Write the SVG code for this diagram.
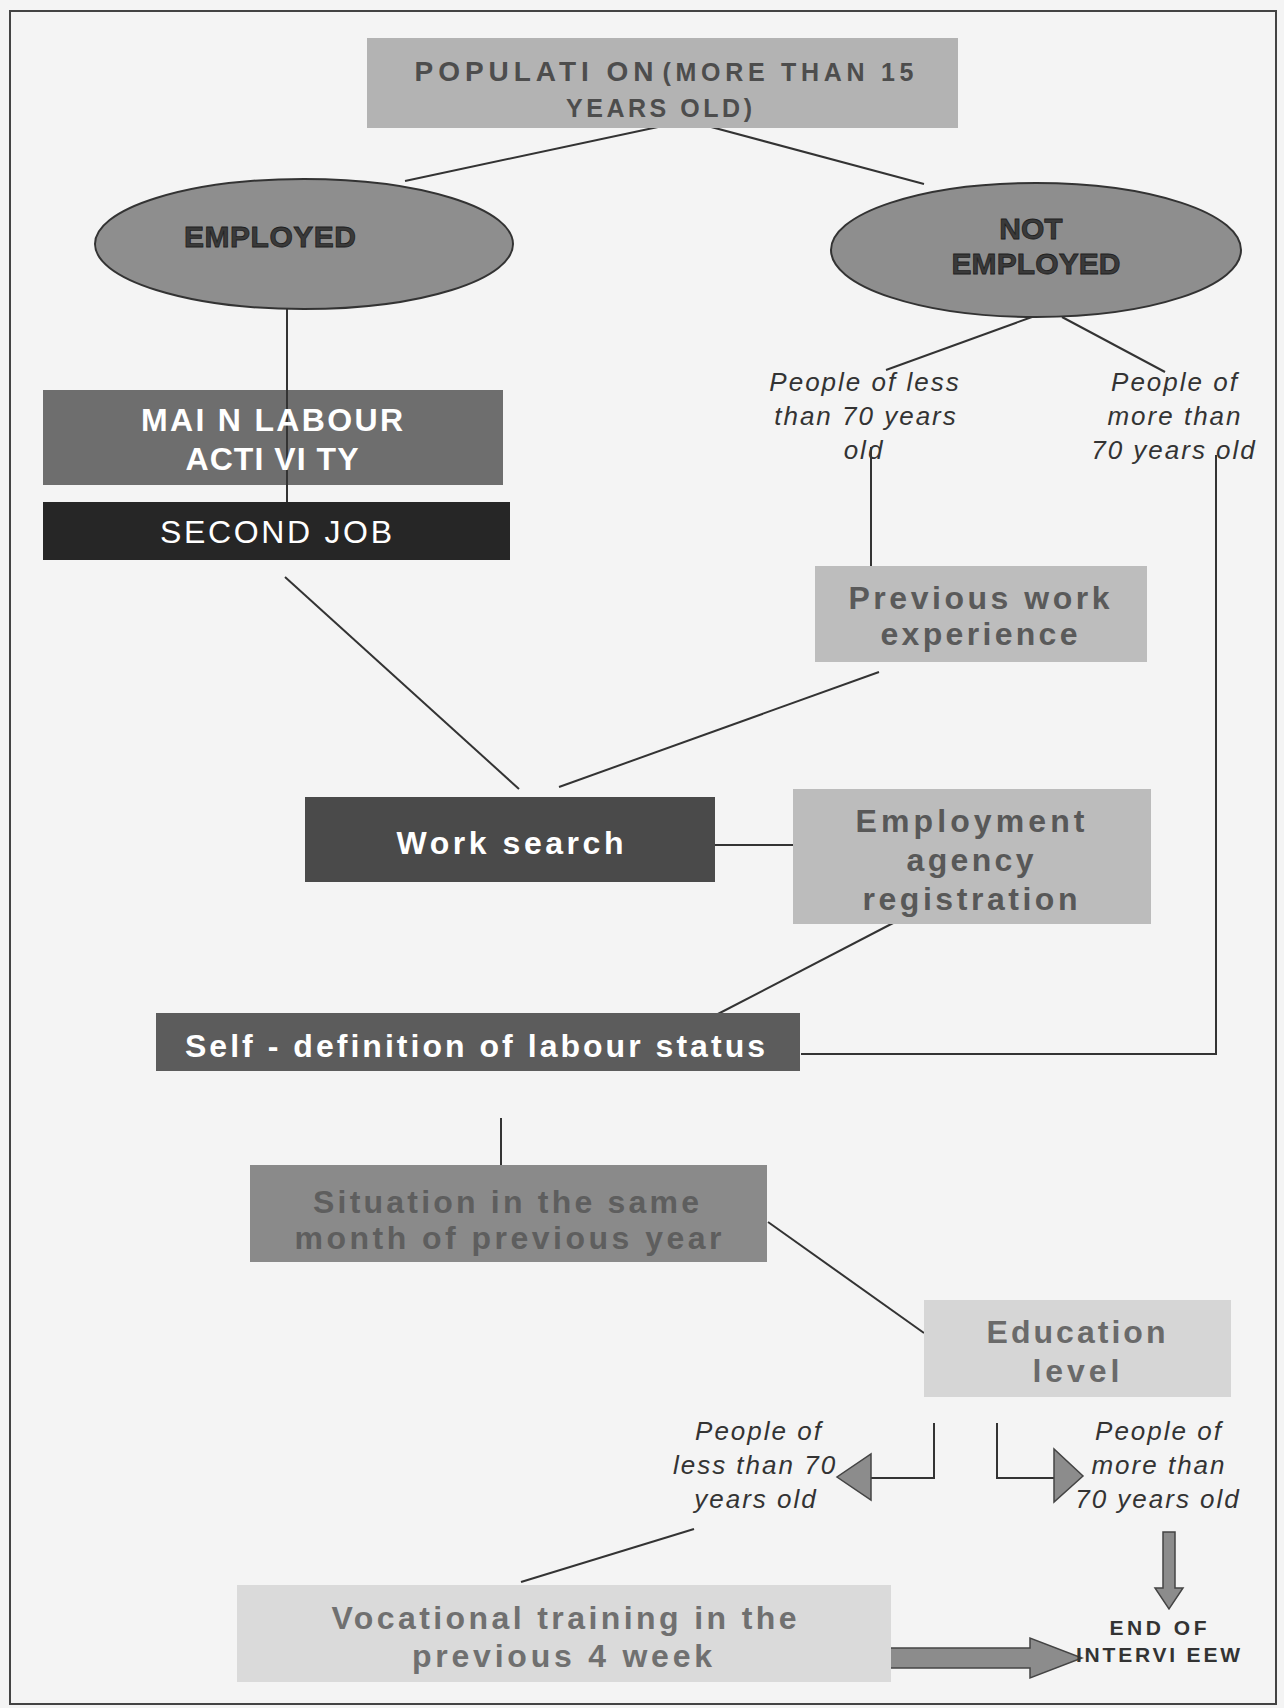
<svg xmlns="http://www.w3.org/2000/svg" width="1284" height="1708" viewBox="0 0 1284 1708">
<style>
text{font-family:"Liberation Sans",Arial,sans-serif;text-anchor:middle}
.b{font-weight:bold;font-size:32px}
.w{fill:#fff}
.it{font-style:italic;font-size:26px;fill:#333;letter-spacing:2px}
.ln{stroke:#333;stroke-width:2;fill:none}
.ar{fill:#8c8c8c;stroke:#444;stroke-width:1.5}
.ell{fill:#8e8e8e;stroke:#333;stroke-width:2}
.et{font-weight:bold;font-size:30px;fill:#3a3a3a;stroke:#1e1e1e;stroke-width:0.8}
.pop{font-weight:bold;fill:#4d4d4d}
</style>
<rect x="0" y="0" width="1284" height="1708" fill="#f4f4f4"/>
<rect x="10" y="11" width="1266" height="1693" fill="none" stroke="#444" stroke-width="2"/>

<g id="connectors">
<line class="ln" x1="672" y1="124" x2="405" y2="181"/>
<line class="ln" x1="700" y1="124" x2="924" y2="184"/>
<line class="ln" x1="287" y1="309" x2="287" y2="502"/>
<line class="ln" x1="1032" y1="317" x2="886" y2="370"/>
<line class="ln" x1="1062" y1="317" x2="1165" y2="372"/>
<line class="ln" x1="871" y1="447" x2="871" y2="566"/>
<polyline class="ln" points="1216,455 1216,1054 801,1054"/>
<line class="ln" x1="285" y1="577" x2="519" y2="789"/>
<line class="ln" x1="879" y1="672" x2="559" y2="787"/>
<line class="ln" x1="715" y1="845" x2="793" y2="845"/>
<line class="ln" x1="897" y1="921" x2="714" y2="1016"/>
<line class="ln" x1="501" y1="1118" x2="501" y2="1178"/>
<line class="ln" x1="768" y1="1222" x2="924" y2="1333"/>
<polyline class="ln" points="934,1423 934,1478 871,1478"/>
<polyline class="ln" points="997,1423 997,1478 1054,1478"/>
<line class="ln" x1="694" y1="1529" x2="521" y2="1582"/>
<polygon class="ar" points="871,1454 871,1500 837,1477"/>
<polygon class="ar" points="1054,1449 1054,1502 1083,1476"/>
<polygon class="ar" points="889,1648 1030,1648 1030,1638 1082,1658 1030,1678 1030,1668 889,1668"/>
<polygon class="ar" points="1163,1532 1175,1532 1175,1588 1183,1588 1169,1609 1155,1588 1163,1588"/>
</g>

<g id="population">
<rect x="367" y="38" width="591" height="90" fill="#b3b3b3"/>
<text class="pop" x="534" y="81" font-size="28" textLength="239" lengthAdjust="spacing">POPULATI ON</text>
<text class="pop" x="788" y="81" font-size="25" textLength="251" lengthAdjust="spacing">(MORE THAN 15</text>
<text class="pop" x="659" y="117" font-size="25" textLength="186" lengthAdjust="spacing">YEARS OLD)</text>
</g>

<g id="employed">
<ellipse class="ell" cx="304" cy="244" rx="209" ry="65"/>
<text class="et" x="270" y="247" textLength="172" lengthAdjust="spacing">EMPLOYED</text>
</g>

<g id="not-employed">
<ellipse class="ell" cx="1036" cy="250" rx="205" ry="67"/>
<text class="et" x="1031" y="239">NOT</text>
<text class="et" x="1036" y="274" textLength="169" lengthAdjust="spacing">EMPLOYED</text>
</g>

<g id="main-labour">
<rect x="43" y="390" width="460" height="95" fill="#6e6e6e"/>
<line class="ln" x1="287" y1="390" x2="287" y2="485"/>
<text class="b w" x="272" y="431" font-size="33" textLength="262" lengthAdjust="spacing">MAI N LABOUR</text>
<text class="b w" x="272" y="470" font-size="33" textLength="173" lengthAdjust="spacing">ACTI VI TY</text>
</g>

<g id="second-job">
<rect x="43" y="502" width="467" height="58" fill="#262626"/>
<text class="w" x="276" y="543" font-size="32" textLength="232" lengthAdjust="spacing">SECOND JOB</text>
</g>

<g id="age-split-1">
<text class="it" x="865" y="391">People of less</text>
<text class="it" x="866" y="425">than 70 years</text>
<text class="it" x="864" y="459">old</text>
<text class="it" x="1175" y="391">People of</text>
<text class="it" x="1175" y="425">more than</text>
<text class="it" x="1174" y="459">70 years old</text>
</g>

<g id="previous-work">
<rect x="815" y="566" width="332" height="96" fill="#bdbdbd"/>
<text class="b" x="979" y="609" fill="#5a5a5a" textLength="261" lengthAdjust="spacing">Previous work</text>
<text class="b" x="979" y="645" fill="#5a5a5a" textLength="197" lengthAdjust="spacing">experience</text>
</g>

<g id="work-search">
<rect x="305" y="797" width="410" height="85" fill="#4a4a4a"/>
<text class="b w" x="510" y="854" font-size="33" textLength="227" lengthAdjust="spacing">Work search</text>
</g>

<g id="employment-agency">
<rect x="793" y="789" width="358" height="135" fill="#bcbcbc"/>
<text class="b" x="970" y="832" fill="#585858" textLength="229" lengthAdjust="spacing">Employment</text>
<text class="b" x="970" y="871" fill="#585858" textLength="127" lengthAdjust="spacing">agency</text>
<text class="b" x="970" y="910" fill="#585858" textLength="215" lengthAdjust="spacing">registration</text>
</g>

<g id="self-definition">
<rect x="156" y="1013" width="644" height="58" fill="#5c5c5c"/>
<text class="b w" x="475" y="1057" font-size="31" textLength="580" lengthAdjust="spacing">Self - definition of labour status</text>
</g>

<g id="situation">
<rect x="250" y="1165" width="517" height="97" fill="#8a8a8a"/>
<text class="b" x="506" y="1213" fill="#5e5e5e" textLength="386" lengthAdjust="spacing">Situation in the same</text>
<text class="b" x="508" y="1249" fill="#5e5e5e" textLength="427" lengthAdjust="spacing">month of previous year</text>
</g>

<g id="education">
<rect x="924" y="1300" width="307" height="97" fill="#d6d6d6"/>
<text class="b" x="1076" y="1343" fill="#6a6a6a" textLength="179" lengthAdjust="spacing">Education</text>
<text class="b" x="1076" y="1382" fill="#6a6a6a" textLength="87" lengthAdjust="spacing">level</text>
</g>

<g id="age-split-2">
<text class="it" x="759" y="1440">People of</text>
<text class="it" x="755" y="1474">less than 70</text>
<text class="it" x="756" y="1508">years old</text>
<text class="it" x="1159" y="1440">People of</text>
<text class="it" x="1159" y="1474">more than</text>
<text class="it" x="1158" y="1508">70 years old</text>
</g>

<g id="vocational">
<rect x="237" y="1585" width="654" height="97" fill="#dadada"/>
<text class="b" x="564" y="1629" fill="#707070" textLength="465" lengthAdjust="spacing">Vocational training in the</text>
<text class="b" x="562" y="1667" fill="#707070" textLength="300" lengthAdjust="spacing">previous 4 week</text>
</g>

<g id="end">
<text x="1158" y="1635" font-size="21" font-weight="bold" fill="#333" textLength="97" lengthAdjust="spacing">END OF</text>
<text x="1158" y="1662" font-size="21" font-weight="bold" fill="#333" textLength="164" lengthAdjust="spacing">INTERVI EEW</text>
</g>
</svg>
